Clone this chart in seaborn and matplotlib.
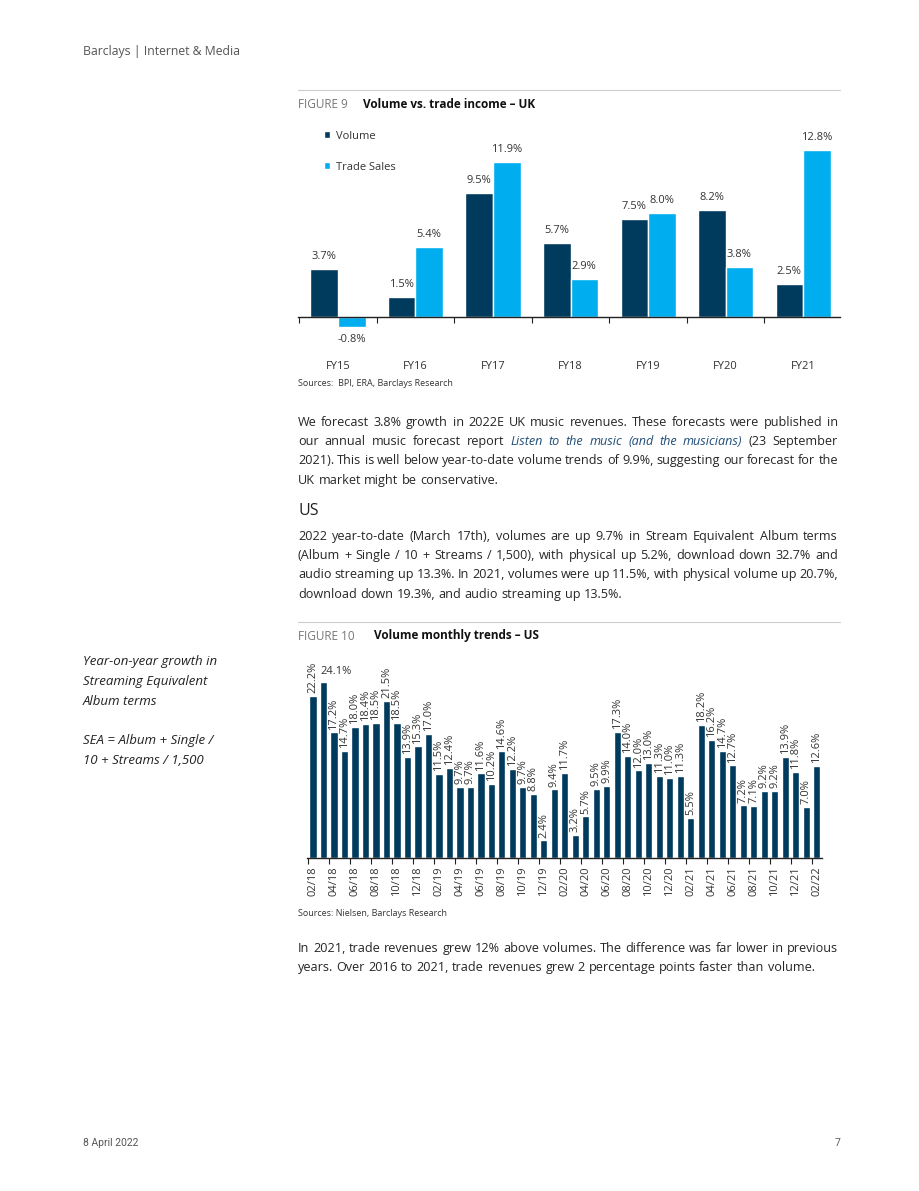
import pandas as pd
import numpy as np
import matplotlib
matplotlib.use('Agg')
import matplotlib.pyplot as plt
import seaborn as sns
from matplotlib.backends.backend_agg import get_hinting_flag

# ---- data ----
fy_years = ['FY15', 'FY16', 'FY17', 'FY18', 'FY19', 'FY20', 'FY21']
volume_uk = [3.7, 1.5, 9.5, 5.7, 7.5, 8.2, 2.5]
trade_uk = [-0.8, 5.4, 11.9, 2.9, 8.0, 3.8, 12.8]

us_monthly = [22.2, 24.1, 17.2, 14.7, 18.0, 18.4, 18.5, 21.5, 18.5, 13.9, 15.3, 17.0,
              11.5, 12.4, 9.7, 9.7, 11.6, 10.2, 14.6, 12.2, 9.7, 8.8, 2.4, 9.4,
              11.7, 3.2, 5.7, 9.5, 9.9, 17.3, 14.0, 12.0, 13.0, 11.3, 11.0, 11.3,
              5.5, 18.2, 16.2, 14.7, 12.7, 7.2, 7.1, 9.2, 9.2, 13.9, 11.8, 7.0, 12.6]
us_months = list(pd.date_range('2018-02-01', periods=len(us_monthly), freq='MS').strftime('%m/%y'))

NAVY = '#003A5D'
CYAN = '#00AEEF'
TXT = '#333333'
BODY_TXT = '#262626'

sns.set_theme(style='white')
plt.rcParams['font.family'] = ['Open Sans', 'DejaVu Sans']

W, H = 920, 1191
fig = plt.figure(figsize=(W / 100, H / 100), dpi=100)


def fx(x):
    return x / W


def fy(y):
    return 1 - y / H


def px_axes(l, t, r, b):
    return fig.add_axes([fx(l), fy(b), (r - l) / W, (b - t) / H])


def rule(y, x0=298, x1=840):
    fig.add_artist(plt.Line2D([fx(x0), fx(x1)], [fy(y), fy(y)], color='#cccccc', lw=0.8))


# ---- page furniture ----
fig.text(fx(83), fy(52), 'Barclays | Internet & Media', fontsize=8.8, color='#555555', va='center')
fig.text(fx(83), fy(1143), '8 April 2022', fontsize=7.5, color='#555555', va='center',
         family=['Roboto', 'DejaVu Sans'])
fig.text(fx(840), fy(1143), '7', fontsize=7.5, color='#555555', va='center', ha='right')

# ---- Figure 9 ----
rule(90)
fig.text(fx(298), fy(104), 'FIGURE 9', fontsize=8.5, color='#777777', va='center')
fig.text(fx(363), fy(104), 'Volume vs. trade income – UK', fontsize=8.5, color='#111111',
         fontweight='bold', va='center')

df9 = pd.DataFrame({'Year': fy_years * 2,
                    'Series': ['Volume'] * len(fy_years) + ['Trade Sales'] * len(fy_years),
                    'Value': volume_uk + trade_uk})
ax9 = px_axes(298, 125, 840, 350)
sns.barplot(data=df9, x='Year', y='Value', hue='Series', palette=[NAVY, CYAN],
            width=0.71, saturation=1, ax=ax9)
for c in ax9.containers:
    ax9.bar_label(c, fmt='%.1f%%', padding=5, fontsize=8, color=TXT)
ax9.set_xlim(-0.516, 6.477)
ax9.set_ylim(-2.53, 14.71)
ax9.set_xlabel('')
ax9.set_ylabel('')
ax9.set_yticks([])
for s in ['top', 'right', 'left']:
    ax9.spines[s].set_visible(False)
ax9.spines['bottom'].set_position(('data', 0))
ax9.spines['bottom'].set_color('#222222')
ax9.spines['bottom'].set_linewidth(1)
ax9.set_xticks(np.arange(-0.5, 6, 1), minor=True)
ax9.tick_params(axis='x', which='major', length=0, pad=32, labelsize=8, labelcolor=TXT)
ax9.tick_params(axis='x', which='minor', bottom=True, length=4, width=0.8, color='#222222',
                direction='out')
ax9.legend(loc='upper left', bbox_to_anchor=(0.03, 1.02), frameon=False, fontsize=8,
           handlelength=0.5, handleheight=0.5, handletextpad=0.6, labelspacing=1.8,
           labelcolor=TXT)
fig.text(fx(298), fy(384), 'Sources:  BPI, ERA, Barclays Research', fontsize=6.5, color=TXT,
         va='center')

# ---- Figure 10 ----
rule(622)
fig.text(fx(298), fy(636), 'FIGURE 10', fontsize=8.5, color='#777777', va='center')
fig.text(fx(374), fy(636), 'Volume monthly trends – US', fontsize=8.5, color='#111111',
         fontweight='bold', va='center')

df10 = pd.DataFrame({'Month': us_months, 'Value': us_monthly})
ax10 = px_axes(307, 650, 822, 858)
sns.barplot(data=df10, x='Month', y='Value', color=NAVY, width=0.67, saturation=1, ax=ax10)
labels10 = ax10.bar_label(ax10.containers[0], fmt='%.1f%%', padding=2, fontsize=8, color=TXT,
                          rotation=90)
# the tallest bar carries a horizontal label in the original
top = int(np.argmax(us_monthly))
labels10[top].set_rotation(0)
labels10[top].set_ha('left')
labels10[top].xyann = (-2, 4)
ax10.set_xlim(-0.571, 48.48)
ax10.set_ylim(0, 28.5)
ax10.set_xlabel('')
ax10.set_ylabel('')
ax10.set_yticks([])
for s in ['top', 'right', 'left']:
    ax10.spines[s].set_visible(False)
ax10.spines['bottom'].set_color('#222222')
ax10.spines['bottom'].set_linewidth(1)
ax10.set_xticks(range(0, len(us_months), 2))
ax10.set_xticklabels(us_months[::2], rotation=90)
ax10.set_xticks(np.arange(-0.5, len(us_months), 2), minor=True)
ax10.tick_params(axis='x', which='major', length=0, pad=6, labelsize=8, labelcolor=TXT)
ax10.tick_params(axis='x', which='minor', bottom=True, length=4, width=0.8, color='#222222',
                 direction='out')
fig.text(fx(298), fy(913), 'Sources: Nielsen, Barclays Research', fontsize=6.5, color=TXT,
         va='center')

# sidebar
side = ['Year-on-year growth in', 'Streaming Equivalent', 'Album terms', '',
        'SEA = Album + Single /', '10 + Streams / 1,500']
for i, s in enumerate(side):
    fig.text(fx(83), fy(662 + i * 19.6), s, fontsize=9.5, style='italic', color='#222222',
             va='center')

# ---- body text, justified word by word ----
BODY = 9.05
renderer = fig.canvas.get_renderer()


def snapped_baseline(t, target):
    # Agg rounds each word's bitmap on its own; pick a baseline that lands every
    # word on the same pixel row
    try:
        font = renderer._prepare_font(t.get_fontproperties())
        font.set_text(t.get_text(), 0, flags=get_hinting_flag())
        d26 = font.get_descent()
        h26 = font.get_width_height()[1]
        return target + h26 // 64 - (h26 - d26) // 64 - d26 / 64
    except Exception:
        return target


def put_line(y, parts, justify=True, x0=298, x1=838):
    # parts: list of (text, emphasised); y is the visual middle of the line
    words = [(w, emph) for t, emph in parts for w in t.split()]
    target = round(y + 4.5)
    arts = []
    for w, emph in words:
        kw = dict(fontsize=BODY, va='baseline', color=BODY_TXT)
        if emph:
            kw.update(style='italic', color='#1F4E79')
        t = fig.text(0, fy(target), w, **kw)
        t.set_y(fy(snapped_baseline(t, target)))
        arts.append(t)
    widths = [a.get_window_extent(renderer).width for a in arts]
    space = 3.4
    if justify and len(words) > 1:
        space = (x1 - x0 - sum(widths)) / (len(words) - 1)
    x = x0
    for a, wd in zip(arts, widths):
        a.set_x(fx(x))
        x += wd + space


para1 = [
    [("We forecast 3.8% growth in 2022E UK music revenues.  These forecasts were published in", False)],
    [("our annual music forecast report", False), ("Listen to the music (and the musicians)", True),
     ("(23 September", False)],
    [("2021). This is well below year-to-date volume trends of 9.9%, suggesting our forecast for the", False)],
    [("UK market might be conservative.", False)],
]
for i, ln in enumerate(para1):
    put_line(421 + i * 19.5, ln, justify=(i < len(para1) - 1))

fig.text(fx(298), fy(511), 'US', fontsize=11.5, color='#222222', va='center')

para2 = [
    [("2022 year-to-date (March 17th), volumes are up 9.7% in Stream Equivalent Album terms", False)],
    [("(Album + Single / 10 + Streams / 1,500), with physical up 5.2%, download down 32.7% and", False)],
    [("audio streaming up 13.3%. In 2021, volumes were up 11.5%, with physical volume up 20.7%,", False)],
    [("download down 19.3%, and audio streaming up 13.5%.", False)],
]
for i, ln in enumerate(para2):
    put_line(535 + i * 19.5, ln, justify=(i < len(para2) - 1))

para3 = [
    [("In 2021, trade revenues grew 12% above volumes. The difference was far lower in previous", False)],
    [("years.  Over 2016 to 2021, trade revenues grew 2 percentage points faster than volume.", False)],
]
for i, ln in enumerate(para3):
    put_line(947 + i * 19.5, ln, justify=(i < len(para3) - 1))

fig.savefig('out.png', dpi=100)
